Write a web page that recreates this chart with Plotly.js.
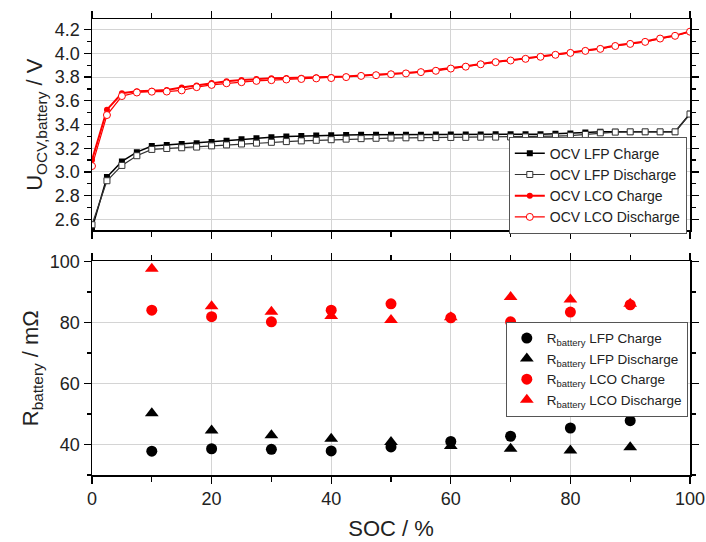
<!DOCTYPE html>
<html>
<head>
<meta charset="utf-8">
<script src="https://cdn.plot.ly/plotly-3.0.1.min.js"></script>
<style>html,body{margin:0;padding:0;background:#fff;}#chart{width:706px;height:542px;}</style>
</head>
<body>
<div id="chart"></div>
<script>
// ---- OCV data (SOC every 2.5 %) ----
const socOCV = [0,2.5,5,7.5,10,12.5,15,17.5,20,22.5,25,27.5,30,32.5,35,37.5,40,42.5,45,47.5,50,
  52.5,55,57.5,60,62.5,65,67.5,70,72.5,75,77.5,80,82.5,85,87.5,90,92.5,95,97.5,100];
const ocvLFPCharge = [2.52,2.957,3.089,3.167,3.218,3.228,3.235,3.242,3.253,3.263,3.275,3.284,3.292,3.298,3.303,3.307,3.310,3.312,3.313,3.313,3.314,
  3.314,3.314,3.315,3.315,3.316,3.316,3.317,3.317,3.318,3.319,3.322,3.325,3.332,3.338,3.340,3.340,3.340,3.340,3.340,3.490];
const ocvLFPDischarge = [2.555,2.926,3.055,3.137,3.190,3.198,3.204,3.210,3.220,3.228,3.236,3.243,3.250,3.256,3.262,3.267,3.272,3.277,3.281,3.284,3.286,
  3.288,3.289,3.290,3.291,3.292,3.293,3.294,3.295,3.296,3.298,3.302,3.306,3.316,3.330,3.336,3.338,3.338,3.338,3.338,3.488];
const ocvLCOCharge = [3.10,3.525,3.664,3.680,3.685,3.692,3.712,3.730,3.750,3.765,3.776,3.785,3.790,3.792,3.795,3.798,3.800,3.806,3.814,3.820,3.828,
  3.835,3.846,3.858,3.876,3.892,3.912,3.929,3.943,3.957,3.974,3.990,4.007,4.024,4.041,4.066,4.083,4.100,4.128,4.150,4.185];
const ocvLCODischarge = [3.05,3.480,3.640,3.670,3.677,3.678,3.688,3.715,3.734,3.748,3.757,3.768,3.774,3.780,3.784,3.789,3.792,3.800,3.810,3.816,3.824,
  3.831,3.842,3.853,3.872,3.888,3.908,3.926,3.940,3.954,3.971,3.988,4.004,4.021,4.038,4.062,4.080,4.097,4.125,4.148,4.183];

// ---- Resistance data ----
const socR = [10,20,30,40,50,60,70,80,90];
const rLFPCharge = [37.8,38.6,38.4,37.9,39.2,41.0,42.7,45.4,47.8];
const rLFPDischarge = [50.2,44.6,43.0,41.9,40.8,39.5,38.6,38.0,39.1];
const rLCOCharge = [84.0,81.9,80.2,84.0,86.1,81.5,80.2,83.4,85.8];
const rLCODischarge = [97.6,85.3,83.5,82.1,80.8,81.7,88.3,87.5,86.1];

const ocvNames = ['OCV LFP Charge','OCV LFP Discharge','OCV LCO Charge','OCV LCO Discharge'];
const rNames = ['R<sub>battery</sub> LFP Charge','R<sub>battery</sub> LFP Discharge',
  'R<sub>battery</sub> LCO Charge','R<sub>battery</sub> LCO Discharge'];

const traces = [
  {x: socOCV, y: ocvLFPCharge, name: ocvNames[0], mode: 'lines+markers', xaxis: 'x', yaxis: 'y',
   line: {color: '#000', width: 1.5}, marker: {symbol: 'square', size: 6, color: '#000'}},
  {x: socOCV, y: ocvLFPDischarge, name: ocvNames[1], mode: 'lines+markers', xaxis: 'x', yaxis: 'y',
   line: {color: '#333', width: 1.2}, marker: {symbol: 'square', size: 6, color: '#fff', line: {color: '#333', width: 1}}},
  {x: socOCV, y: ocvLCOCharge, name: ocvNames[2], mode: 'lines+markers', xaxis: 'x', yaxis: 'y',
   line: {color: '#ff0000', width: 2}, marker: {symbol: 'circle', size: 6, color: '#ff0000'}},
  {x: socOCV, y: ocvLCODischarge, name: ocvNames[3], mode: 'lines+markers', xaxis: 'x', yaxis: 'y',
   line: {color: '#ff0000', width: 1.2}, marker: {symbol: 'circle', size: 7, color: '#fff', line: {color: '#ff0000', width: 1}}},
  {x: socR, y: rLFPCharge, name: rNames[0], mode: 'markers', xaxis: 'x2', yaxis: 'y2', legend: 'legend2',
   marker: {symbol: 'circle', size: 11, color: '#000'}},
  {x: socR, y: rLFPDischarge, name: rNames[1], mode: 'markers', xaxis: 'x2', yaxis: 'y2', legend: 'legend2',
   marker: {symbol: 'triangle-up', size: 12, color: '#000'}},
  {x: socR, y: rLCOCharge, name: rNames[2], mode: 'markers', xaxis: 'x2', yaxis: 'y2', legend: 'legend2',
   marker: {symbol: 'circle', size: 11, color: '#ff0000'}},
  {x: socR, y: rLCODischarge, name: rNames[3], mode: 'markers', xaxis: 'x2', yaxis: 'y2', legend: 'legend2',
   marker: {symbol: 'triangle-up', size: 12, color: '#ff0000'}}
];

const font = {family: 'Liberation Sans, Arial, sans-serif', color: '#222'};
const axisCommon = {
  showline: true, linecolor: '#000', linewidth: 1.5, mirror: 'allticks',
  ticks: 'outside', ticklen: 7, tickwidth: 1.3, tickcolor: '#000',
  showgrid: true, gridcolor: '#d4d4d4', gridwidth: 1, zeroline: false,
  tickfont: {size: 18, color: '#222'}
};

const layout = {
  width: 706, height: 542,
  margin: {l: 92, r: 16, t: 19, b: 67},
  paper_bgcolor: '#fff', plot_bgcolor: '#fff',
  font: font,
  showlegend: true,
  xaxis: Object.assign({}, axisCommon, {anchor: 'y', range: [0, 100], dtick: 20, showticklabels: false,
    minor: {dtick: 10, ticks: 'outside', ticklen: 5, tickcolor: '#000', showgrid: false}}),
  yaxis: Object.assign({}, axisCommon, {domain: [0.5364, 1], anchor: 'x', range: [2.507, 4.29], dtick: 0.2, tick0: 2.6,
    tickformat: '.1f',
    minor: {dtick: 0.1, ticks: 'outside', ticklen: 4, tickcolor: '#000', showgrid: false},
    title: {text: 'U<sub>OCV,battery</sub> / V', font: {size: 22, color: '#222'}, standoff: 6}}),
  xaxis2: Object.assign({}, axisCommon, {anchor: 'y2', range: [0, 100], dtick: 20,
    minor: {dtick: 10, ticks: 'outside', ticklen: 5, tickcolor: '#000', showgrid: false},
    title: {text: 'SOC / %', font: {size: 22, color: '#222'}, standoff: 12}}),
  yaxis2: Object.assign({}, axisCommon, {domain: [0, 0.4684], anchor: 'x2', range: [30, 100], dtick: 20, tick0: 40,
    minor: {dtick: 10, ticks: 'outside', ticklen: 4, tickcolor: '#000', showgrid: false},
    title: {text: 'R<sub>battery</sub> / mΩ', font: {size: 22, color: '#222'}, standoff: 5}}),
  legend: {x: 0.697, y: 0.7419, xanchor: 'left', yanchor: 'top', bgcolor: '#fff',
    bordercolor: '#555', borderwidth: 1, font: {size: 14, color: '#222'}, tracegroupgap: 0, itemwidth: 30},
  legend2: {x: 0.692, y: 0.336, xanchor: 'left', yanchor: 'top', bgcolor: '#fff',
    bordercolor: '#555', borderwidth: 1, font: {size: 13.5, color: '#222'}, tracegroupgap: 0, itemwidth: 30}
};

Plotly.newPlot('chart', traces, layout, {displayModeBar: false, staticPlot: true});
</script>
</body>
</html>
